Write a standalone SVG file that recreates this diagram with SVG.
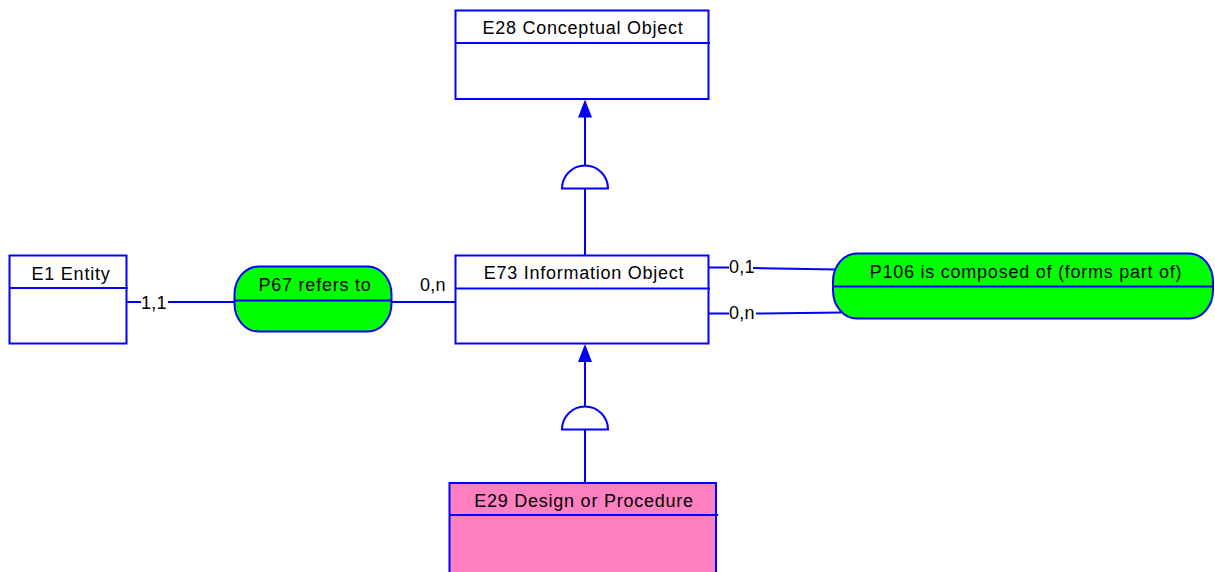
<svg xmlns="http://www.w3.org/2000/svg" width="1215" height="572" viewBox="0 0 1215 572">
  <style>
    .box { fill: #ffffff; stroke: #0000ff; stroke-width: 2; }
    .sub { fill: #ff80c0; stroke: #0000ff; stroke-width: 2; }
    .prop { fill: #00ff00; stroke: #0000ff; stroke-width: 2; }
    .div { stroke: #0000ff; stroke-width: 2; fill: none; }
    .ln { stroke: #0000ff; stroke-width: 2; fill: none; }
    .head { fill: #0000ff; stroke: none; }
    .lbl { font-family: "Liberation Sans", Arial, sans-serif; font-size: 18px; letter-spacing: 0.75px; fill: #000000; }
    .card { font-family: "Liberation Sans", Arial, sans-serif; font-size: 18px; letter-spacing: 0.2px; fill: #000000; }
    .semi { fill: #ffffff; stroke: #0000ff; stroke-width: 2; }
  </style>

  <!-- page title, mostly outside the visible area -->
  <text x="161" y="-8" font-family="Liberation Sans, Arial, sans-serif" font-size="36" font-weight="bold" fill="#2e5c9a">g</text>

  <!-- connectors -->
  <g id="connectors">
    <!-- E73 is-a E28 -->
    <line class="ln" x1="585" y1="165.5" x2="585" y2="116"/>
    <polygon class="head" points="585,99.5 592,117.5 578,117.5"/>
    <path class="semi" d="M562,188.5 A23,23 0 0 1 608,188.5 Z"/>
    <line class="ln" x1="585" y1="188.5" x2="585" y2="255"/>
    <!-- E29 is-a E73 -->
    <line class="ln" x1="585" y1="406.5" x2="585" y2="360"/>
    <polygon class="head" points="585,344 592,362 578,362"/>
    <path class="semi" d="M562,429.5 A23,23 0 0 1 608,429.5 Z"/>
    <line class="ln" x1="585" y1="429.5" x2="585" y2="483"/>
    <!-- P67 refers to -->
    <line class="ln" x1="127" y1="302" x2="141" y2="302"/>
    <text class="card" x="141" y="309">1,1</text>
    <line class="ln" x1="168" y1="302" x2="235" y2="302"/>
    <line class="ln" x1="391" y1="302" x2="455" y2="302"/>
    <text class="card" x="420" y="291">0,n</text>
    <!-- P106 is composed of -->
    <line class="ln" x1="708" y1="267.5" x2="729" y2="267.5"/>
    <text class="card" x="729" y="273">0,1</text>
    <line class="ln" x1="753" y1="268" x2="836" y2="269.5"/>
    <line class="ln" x1="708" y1="313.5" x2="729" y2="313.5"/>
    <text class="card" x="729" y="319">0,n</text>
    <line class="ln" x1="756" y1="313.5" x2="841" y2="312.5"/>
  </g>

  <g id="E28">
    <rect class="box" x="455.5" y="10.5" width="253" height="88.5"/>
    <line class="div" x1="455.5" y1="43" x2="710" y2="43"/>
    <text class="lbl" x="583" y="34" text-anchor="middle">E28 Conceptual Object</text>
  </g>

  <g id="E1">
    <rect class="box" x="9.5" y="255.5" width="117" height="88"/>
    <line class="div" x1="9.5" y1="288" x2="128" y2="288"/>
    <text class="lbl" x="71" y="279.5" text-anchor="middle">E1 Entity</text>
  </g>

  <g id="P67">
    <rect class="prop" x="234.5" y="266.5" width="157" height="65" rx="24" ry="28"/>
    <line class="div" x1="234.5" y1="300.5" x2="391.5" y2="300.5"/>
    <text class="lbl" x="315" y="291" text-anchor="middle">P67 refers to</text>
  </g>

  <g id="E73">
    <rect class="box" x="455.5" y="255.5" width="253" height="88"/>
    <line class="div" x1="455.5" y1="288.5" x2="710" y2="288.5"/>
    <text class="lbl" x="584" y="278.5" text-anchor="middle">E73 Information Object</text>
  </g>

  <g id="P106">
    <rect class="prop" x="833" y="253.5" width="380" height="65" rx="24" ry="28"/>
    <line class="div" x1="833" y1="286.5" x2="1213" y2="286.5"/>
    <text class="lbl" x="1026" y="277.5" text-anchor="middle">P106 is composed of (forms part of)</text>
  </g>

  <g id="E29">
    <rect class="sub" x="449.5" y="483" width="266.5" height="100"/>
    <line class="div" x1="449.5" y1="515" x2="718" y2="515"/>
    <text class="lbl" x="584" y="507" text-anchor="middle">E29 Design or Procedure</text>
  </g>
</svg>
